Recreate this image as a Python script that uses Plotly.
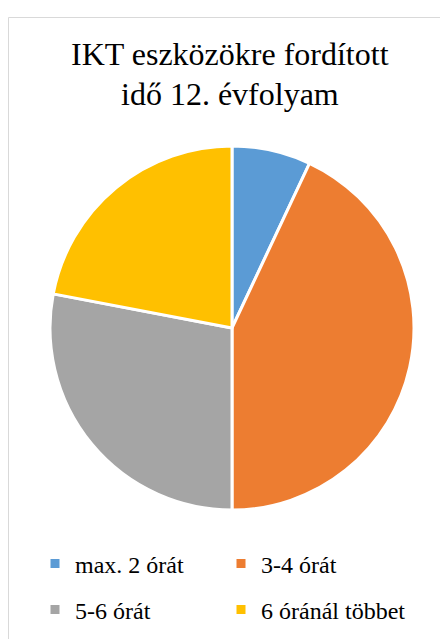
import plotly.graph_objects as go

categories = ["max. 2 órát", "3-4 órát", "5-6 órát", "6 óránál többet"]
values = [7, 43, 28, 22]
colors = ["#5B9BD5", "#ED7D31", "#A5A5A5", "#FFC000"]
title_lines = ["IKT eszközökre fordított", "idő 12. évfolyam"]

W, H = 440, 639
FONT = "Liberation Serif"

fig = go.Figure()
fig.add_trace(go.Pie(
    labels=categories, values=values, sort=False, direction="clockwise", rotation=0,
    marker=dict(colors=colors, line=dict(color="white", width=3)),
    textinfo="none", hoverinfo="label+percent", showlegend=False,
    domain=dict(x=[(232 - 182) / W, (232 + 182) / W], y=[(311 - 182) / H, (311 + 182) / H]),
))

for i, (c, col) in enumerate(zip(categories, colors)):
    fig.add_trace(go.Scatter(
        x=[None], y=[None], mode="markers", name=c,
        marker=dict(symbol="square", size=9, color=col),
        legend="legend" if i < 2 else "legend2",
    ))

leg_common = dict(orientation="h", xanchor="left", yanchor="middle",
                  font=dict(family=FONT, size=24, color="#000"),
                  bgcolor="rgba(0,0,0,0)", entrywidth=141, itemwidth=30,
                  traceorder="normal")

fig.update_layout(
    width=W, height=H,
    margin=dict(l=0, r=0, t=0, b=0),
    paper_bgcolor="white", plot_bgcolor="white",
    font=dict(family=FONT),
    xaxis=dict(visible=False), yaxis=dict(visible=False),
    legend=dict(x=35 / W, y=1 - 564 / H, **leg_common),
    legend2=dict(x=35 / W, y=1 - 610 / H, **leg_common),
    shapes=[dict(type="rect", xref="paper", yref="paper",
                 x0=8.5 / W, x1=1.05, y0=-0.05, y1=1 - 17.5 / H,
                 line=dict(color="#D9D9D9", width=1), fillcolor="rgba(0,0,0,0)")],
    annotations=[
        dict(text=title_lines[0], x=230 / W, y=1 - 74 / H, xref="paper", yref="paper",
             xanchor="center", yanchor="bottom", showarrow=False,
             font=dict(family=FONT, size=32, color="#000")),
        dict(text=title_lines[1], x=230 / W, y=1 - 114 / H, xref="paper", yref="paper",
             xanchor="center", yanchor="bottom", showarrow=False,
             font=dict(family=FONT, size=32, color="#000")),
    ],
)

fig.write_html("out.html", config={"displayModeBar": False},
               post_script="document.body.style.margin='0';document.body.style.overflow='hidden';")
